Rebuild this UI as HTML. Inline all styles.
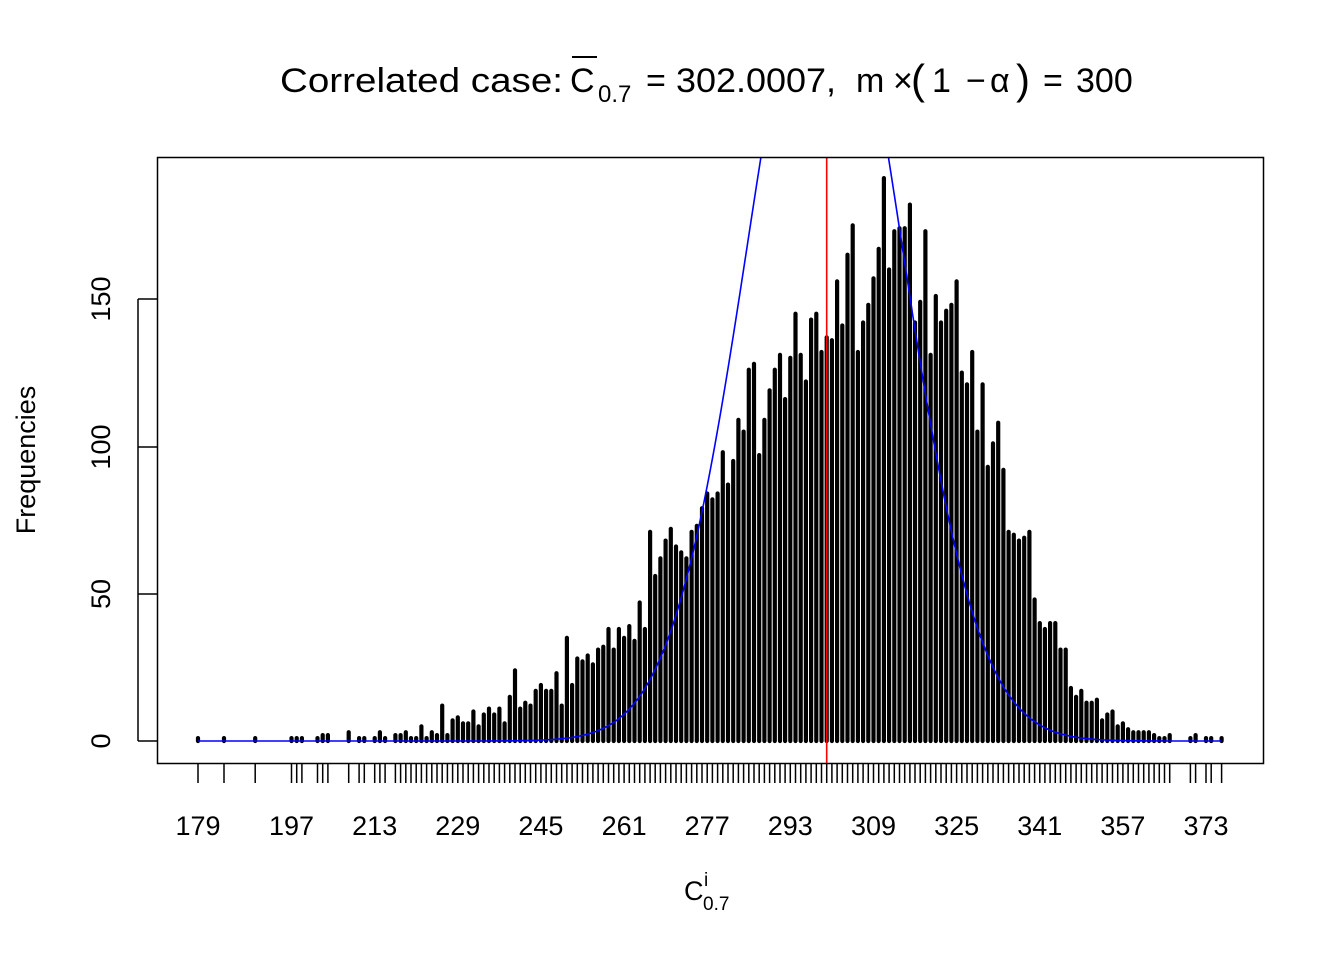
<!DOCTYPE html>
<html><head><meta charset="utf-8"><style>
html,body{margin:0;padding:0;background:#fff;}
svg{display:block;font-family:"Liberation Sans",Arial,sans-serif;}
</style></head><body>
<svg id="s" width="1344" height="960" viewBox="0 0 1344 960" xmlns="http://www.w3.org/2000/svg">
<defs><clipPath id="c"><rect x="157" y="157" width="1106" height="606"/></clipPath></defs>
<rect width="1344" height="960" fill="#fff"/>
<g id="bars" stroke="#000" stroke-width="4.2" stroke-linecap="round"></g>
<g id="ticks" stroke="#000" stroke-width="1.5"></g>
<path id="curve" fill="none" stroke="#0000ff" stroke-width="1.6" clip-path="url(#c)"/>
<line x1="826.7" y1="157" x2="826.7" y2="763" stroke="#ff0000" stroke-width="1.6"/>
<rect x="157.5" y="157.5" width="1106" height="606" fill="none" stroke="#000" stroke-width="1.5"/>
<g stroke="#000" stroke-width="1.5">
<line x1="157" y1="741" x2="138" y2="741"/><line x1="157" y1="594" x2="138" y2="594"/>
<line x1="157" y1="447" x2="138" y2="447"/><line x1="157" y1="299" x2="138" y2="299"/>
<line x1="138" y1="299" x2="138" y2="741"/>
</g>
<g font-size="27" text-anchor="middle">
<text transform="translate(110,741) rotate(-90)">0</text>
<text transform="translate(110,594) rotate(-90)">50</text>
<text transform="translate(110,447) rotate(-90)">100</text>
<text transform="translate(110,299) rotate(-90)">150</text>
<text transform="translate(35,460) rotate(-90)">Frequencies</text>
</g>
<g id="xl" font-size="27" text-anchor="middle"></g>
<text x="684" y="900" font-size="27">C</text>
<text x="704" y="886" font-size="19">i</text>
<text x="703" y="910" font-size="19">0.7</text>
<g font-size="34">
<text x="280" y="92" textLength="283" lengthAdjust="spacingAndGlyphs">Correlated case:</text>
<text x="570" y="92">C</text>
<line x1="572" y1="57" x2="597" y2="57" stroke="#000" stroke-width="2"/>
<text x="598" y="102" font-size="24">0.7</text>
<text x="646" y="92">=</text>
<text x="676" y="92" textLength="160" lengthAdjust="spacingAndGlyphs">302.0007,</text>
<text x="856" y="92">m</text>
<text x="893" y="92">×</text>
<text x="911" y="94" font-size="42">(</text>
<text x="932" y="92">1</text>
<text x="966" y="92">−</text>
<text x="990" y="92">α</text>
<text x="1016" y="94" font-size="42">)</text>
<text x="1043" y="92">=</text>
<text x="1076" y="92">300</text>
</g>
</svg>
<script>
var d={179:1,184:1,190:1,197:1,198:1,199:1,202:1,203:2,204:2,208:3,210:1,211:1,213:1,214:3,215:1,
217:2,218:2,219:3,220:1,221:1,222:5,223:1,224:3,225:2,226:12,227:2,228:7,229:8,230:6,231:6,232:10,233:5,234:9,235:11,236:9,237:11,238:6,239:15,240:24,241:11,242:13,243:12,244:17,245:19,246:17,247:17,248:23,249:12,250:35,251:19,252:28,253:27,254:29,255:26,256:31,257:32,258:38,259:31,260:38,261:35,262:39,263:34,264:47,265:38,
266:71,267:56,268:62,269:68,270:72,271:66,272:64,273:62,274:71,275:73,276:79,277:84,278:82,279:84,280:98,281:87,282:95,283:109,284:105,285:126,286:128,287:97,288:109,289:119,290:126,291:131,292:116,293:130,294:145,295:131,296:122,297:143,298:145,299:132,300:137,301:136,302:156,303:141,304:165,305:175,306:132,307:142,308:148,309:157,310:167,311:191,312:160,313:173,314:174,315:174,316:182,317:142,318:149,319:173,320:131,321:151,
322:142,323:146,324:148,325:156,326:125,327:121,328:132,329:105,330:121,331:93,332:101,333:108,334:92,335:71,336:70,337:68,338:69,339:71,340:48,341:40,342:38,343:40,344:40,345:31,346:31,347:18,348:15,349:17,350:13,351:13,352:14,353:7,354:9,355:10,356:5,357:6,358:4,359:3,360:3,361:3,362:3,363:2,364:1,365:1,366:2,370:1,371:2,373:1,374:1,376:1};
function X(v){return 198+(v-179)*5.196;}
function Y(c){return 741-c*2.947;}
var b='',t='';
for(var k in d){var x=X(+k).toFixed(1);
b+='<line x1="'+x+'" y1="741" x2="'+x+'" y2="'+Y(d[k]).toFixed(1)+'"/>';
t+='<line x1="'+x+'" y1="763" x2="'+x+'" y2="783"/>';}
document.getElementById('bars').innerHTML=b;
document.getElementById('ticks').innerHTML=t;
var l='',labs=[179,197,213,229,245,261,277,293,309,325,341,357,373];
labs.forEach(function(v){l+='<text x="'+X(v).toFixed(1)+'" y="835">'+v+'</text>';});
document.getElementById('xl').innerHTML=l;
var p='';
for(var v=179;v<=376;v+=0.25){var f=280*Math.exp(-Math.pow(v-299.6,2)/435);
var y=Math.max(Y(f),100);p+=(p?'L':'M')+X(v).toFixed(1)+' '+y.toFixed(1);}
document.getElementById('curve').setAttribute('d',p);
</script>
</body></html>
